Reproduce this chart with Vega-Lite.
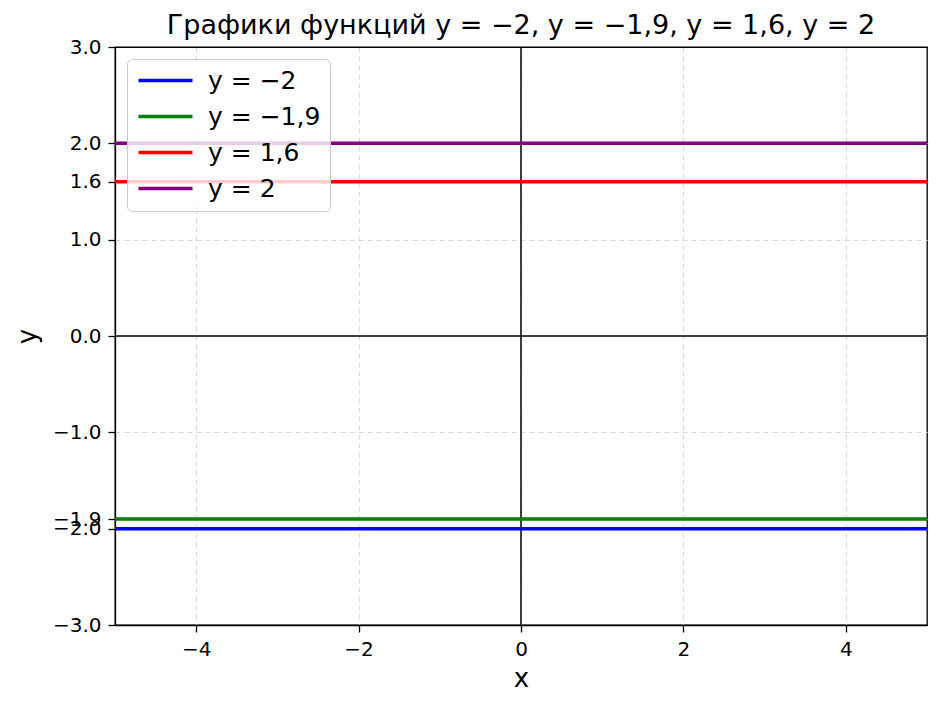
{
  "$schema": "https://vega.github.io/schema/vega-lite/v6.json",
  "autosize": "none",
  "width": 812,
  "height": 578,
  "padding": {"left": 115, "top": 47, "right": 16, "bottom": 84},
  "background": "white",
  "config": {
    "font": "DejaVu Sans",
    "view": {"stroke": "black", "strokeWidth": 1.3},
    "axis": {
      "labelFont": "DejaVu Sans",
      "labelFontSize": 20,
      "labelColor": "black",
      "titleFont": "DejaVu Sans",
      "titleFontSize": 26,
      "titleFontWeight": "normal",
      "titleColor": "black",
      "tickColor": "black",
      "tickSize": 7,
      "tickWidth": 1.3,
      "domainColor": "black",
      "domainWidth": 1.3,
      "gridColor": {"condition": {"test": "abs(datum.value) == 3", "value": "black"}, "value": "#d9d9d9"},
      "gridDash": {"condition": {"test": "abs(datum.value) == 3", "value": []}, "value": [5, 4]},
      "gridWidth": 1.2,
      "labelOverlap": false,
      "labelFlush": false
    },
    "legend": {
      "labelFont": "DejaVu Sans",
      "labelFontSize": 25,
      "labelColor": "black"
    }
  },
  "title": {
    "text": "Графики функций y = −2, y = −1,9, y = 1,6, y = 2",
    "font": "DejaVu Sans",
    "fontSize": 27,
    "fontWeight": "normal",
    "color": "black",
    "offset": -3
  },
  "datasets": {
    "lines": [
      {"name": "y = −2", "x": -5, "y": -2},
      {"name": "y = −2", "x": 5, "y": -2},
      {"name": "y = −1,9", "x": -5, "y": -1.9},
      {"name": "y = −1,9", "x": 5, "y": -1.9},
      {"name": "y = 1,6", "x": -5, "y": 1.6},
      {"name": "y = 1,6", "x": 5, "y": 1.6},
      {"name": "y = 2", "x": -5, "y": 2},
      {"name": "y = 2", "x": 5, "y": 2}
    ]
  },
  "layer": [
    {
      "data": {"values": [{"v": 0}]},
      "mark": {"type": "rule", "color": "black", "strokeWidth": 1.5},
      "encoding": {
        "x": {"datum": 0, "type": "quantitative", "scale": {"domain": [-5, 5], "nice": false, "zero": false}, "axis": {"values": [-4, -2, 0, 2, 4], "format": "d", "title": "x", "grid": true, "labelPadding": 7, "titlePadding": 6}}
      }
    },
    {
      "data": {"values": [{"v": 0}]},
      "mark": {"type": "rule", "color": "black", "strokeWidth": 1.5},
      "encoding": {
        "y": {"datum": 0, "type": "quantitative", "scale": {"domain": [-3, 3], "nice": false, "zero": false}, "axis": {"values": [-3, -2, -1.9, -1, 0, 1, 1.6, 2, 3], "format": ".1f", "title": "y", "grid": true, "labelPadding": 7, "titlePadding": 12}}
      }
    },
    {
      "data": {"name": "lines"},
      "mark": {"type": "line", "strokeWidth": 3.5},
      "encoding": {
        "x": {"field": "x", "type": "quantitative"},
        "y": {"field": "y", "type": "quantitative"},
        "color": {
          "field": "name",
          "type": "nominal",
          "scale": {"domain": ["y = −2", "y = −1,9", "y = 1,6", "y = 2"], "range": ["blue", "green", "red", "purple"]},
          "legend": {
            "title": null,
            "orient": "top-left",
            "offset": 12,
            "symbolType": "M-2.7,0H2.7",
            "symbolSize": 400,
            "symbolOffset": 17,
            "symbolStrokeWidth": 3.5,
            "labelOffset": 30,
            "padding": 9,
            "rowPadding": 10,
            "fillColor": "rgba(255,255,255,0.8)",
            "strokeColor": "#cccccc",
            "cornerRadius": 5
          }
        }
      }
    }
  ]
}
